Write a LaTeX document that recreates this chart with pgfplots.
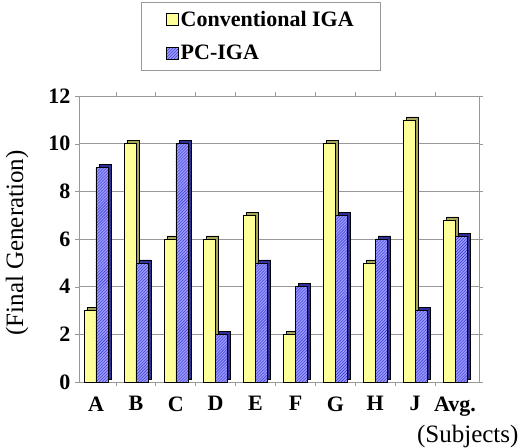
\documentclass[border=0pt]{standalone}
\usepackage{pgfplots}
\pgfplotsset{compat=1.18}
\usetikzlibrary{patterns}
\usepackage{fontspec}
\setmainfont{Liberation Serif}
\newfontfamily\tnr{Liberation Serif}
\definecolor{ylw}{HTML}{FFFF99}
\definecolor{ylwside}{HTML}{A3A35C}
\definecolor{blu}{HTML}{9999FF}
\definecolor{bluside}{HTML}{2E2E99}
\definecolor{hatch}{HTML}{3333CC}
\definecolor{gridg}{HTML}{999999}
\pgfplotstableread{
x conv pc
0 3 9
1 10 5
2 6 10
3 6 2
4 7 5
5 2 4
6 10 7
7 5 6
8 11 3
9 6.8 6.1
}\datatab
\begin{document}
\begin{tikzpicture}
\useasboundingbox (0,0) rectangle (525bp,448bp);
\begin{axis}[
  at={(79bp,66bp)}, anchor=south west,
  scale only axis, width=400bp, height=286bp,
  xmin=-0.426, xmax=9.6, ymin=0, ymax=12,
  ytick={0,2,...,12},
  xtick={0,...,9},
  xticklabels={A,B,C,D,E,F,G,H,J,Avg.},
  major x tick style={draw=none},
  minor xtick={0.5,1.5,...,8.5},
  minor x tick style={gridg, thick},
  minor tick length=4bp,
  ytick style={gridg},
  major tick length=4bp,
  tick align=outside,
  ymajorgrids, grid style={gridg, line width=0.8bp},
  axis line style={gridg, line width=0.8bp},
  ticklabel style={font=\tnr\fontsize{22bp}{24bp}\selectfont\bfseries},
  /pgf/number format/assume math mode=true,
  xticklabel style={yshift=-7bp},
  yticklabel style={xshift=-1bp},
  ybar, bar width=12bp,
  legend style={at={(0.455,1.329)}, anchor=north, draw=gridg, line width=0.8bp,
    font=\tnr\fontsize{22bp}{24bp}\selectfont\bfseries, inner xsep=25bp, inner ysep=7bp, row sep=13bp,
    legend cell align=left},
  legend image code/.code={\draw[#1, line width=0.4bp] (0bp,-6bp) rectangle (12bp,6bp);},
  clip=false,
]
\addplot[ylwside, fill=ylwside, draw=black, line width=0.4bp, bar shift=-6bp, xshift=3bp, yshift=3bp, forget plot] table[x=x,y=conv]{\datatab};
\addplot[bluside, fill=bluside, draw=black, line width=0.4bp, bar shift=6bp, xshift=3bp, yshift=3bp, forget plot] table[x=x,y=pc]{\datatab};
\addplot[fill=ylw, draw=black, line width=0.4bp, bar shift=-6bp] table[x=x,y=conv]{\datatab};
\addplot[fill=blu, draw=black, line width=0.4bp, bar shift=6bp, postaction={pattern=north east lines, pattern color=hatch}] table[x=x,y=pc]{\datatab};
\legend{Conventional IGA, PC-IGA}
\end{axis}
\node[rotate=90, font=\tnr\fontsize{25bp}{28bp}\selectfont] at (17bp,205bp) {(Final Generation)};
\node[anchor=east, font=\tnr\fontsize{25bp}{28bp}\selectfont] at (522bp,12bp) {(Subjects)};
\end{tikzpicture}
\end{document}
